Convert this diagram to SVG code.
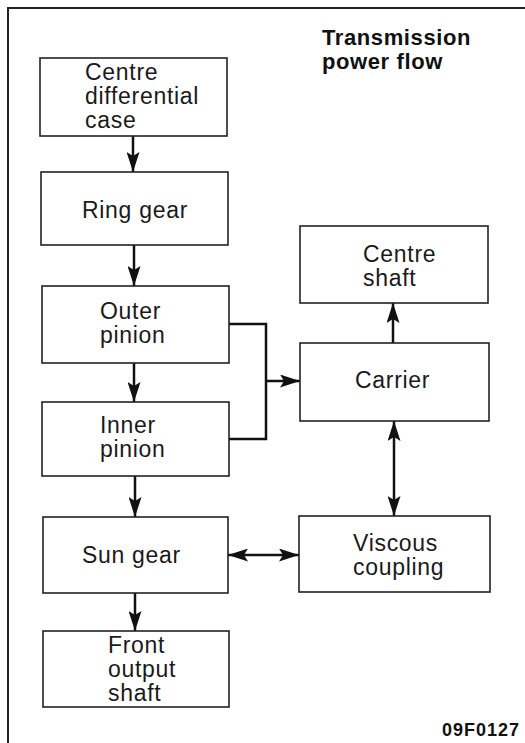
<svg xmlns="http://www.w3.org/2000/svg" width="525" height="743" viewBox="0 0 525 743">
<defs>
<style>
.box{fill:none;stroke:#222;stroke-width:1.6}
.lbl{font-family:"Liberation Sans",Arial,sans-serif;font-size:23px;letter-spacing:0.7px;fill:#1a1a1a}
.title{font-family:"Liberation Sans",Arial,sans-serif;font-size:22px;font-weight:bold;letter-spacing:0.6px;fill:#111}
.code{font-family:"Liberation Sans",Arial,sans-serif;font-size:18px;font-weight:bold;letter-spacing:1px;fill:#111}
.conn{fill:none;stroke:#111;stroke-width:2.5}
</style>
<marker id="ah" viewBox="0 0 20 13" refX="20" refY="6.5" markerWidth="20" markerHeight="13" markerUnits="userSpaceOnUse" orient="auto-start-reverse">
<path d="M0,0 L20,6.5 L0,13 L4,6.5 Z" fill="#111"/>
</marker>
</defs>
<rect width="525" height="743" fill="#fff"/>
<path d="M8,743 L8,8 L525,8" fill="none" stroke="#222" stroke-width="2"/>
<text class="title" x="322" y="45">Transmission</text>
<text class="title" x="322" y="69">power flow</text>
<text class="code" x="442" y="736">09F0127</text>

<g id="connectors">
<line class="conn" x1="133" y1="136" x2="133" y2="172" marker-end="url(#ah)"/>
<line class="conn" x1="134" y1="245" x2="134" y2="286" marker-end="url(#ah)"/>
<line class="conn" x1="134" y1="363" x2="134" y2="402" marker-end="url(#ah)"/>
<line class="conn" x1="135" y1="476" x2="135" y2="517" marker-end="url(#ah)"/>
<line class="conn" x1="135" y1="593" x2="135" y2="631" marker-end="url(#ah)"/>
<path class="conn" d="M229,324 L266,324 L266,439 L229,439"/>
<line class="conn" x1="266" y1="381" x2="300" y2="381" marker-end="url(#ah)"/>
<line class="conn" x1="393" y1="343" x2="393" y2="303" marker-end="url(#ah)"/>
<line class="conn" x1="394" y1="421" x2="394" y2="516" marker-start="url(#ah)" marker-end="url(#ah)"/>
<line class="conn" x1="228" y1="555" x2="299" y2="555" marker-start="url(#ah)" marker-end="url(#ah)"/>
</g>

<g id="centre-differential-case">
<rect class="box" x="40" y="58" width="187" height="78"/>
<text class="lbl" x="85" y="80">Centre</text>
<text class="lbl" x="85" y="104">differential</text>
<text class="lbl" x="85" y="128">case</text>
</g>
<g id="ring-gear">
<rect class="box" x="41" y="172" width="187" height="73"/>
<text class="lbl" x="82" y="218">Ring gear</text>
</g>
<g id="outer-pinion">
<rect class="box" x="42" y="286" width="187" height="77"/>
<text class="lbl" x="100" y="319">Outer</text>
<text class="lbl" x="100" y="343">pinion</text>
</g>
<g id="inner-pinion">
<rect class="box" x="42" y="402" width="187" height="74"/>
<text class="lbl" x="100" y="433">Inner</text>
<text class="lbl" x="100" y="457">pinion</text>
</g>
<g id="sun-gear">
<rect class="box" x="43" y="517" width="185" height="76"/>
<text class="lbl" x="82" y="563">Sun gear</text>
</g>
<g id="front-output-shaft">
<rect class="box" x="43" y="631" width="186" height="76"/>
<text class="lbl" x="108" y="653">Front</text>
<text class="lbl" x="108" y="677">output</text>
<text class="lbl" x="108" y="701">shaft</text>
</g>
<g id="centre-shaft">
<rect class="box" x="300" y="226" width="188" height="77"/>
<text class="lbl" x="363" y="262">Centre</text>
<text class="lbl" x="363" y="286">shaft</text>
</g>
<g id="carrier">
<rect class="box" x="300" y="343" width="189" height="78"/>
<text class="lbl" x="355" y="388">Carrier</text>
</g>
<g id="viscous-coupling">
<rect class="box" x="299" y="516" width="191" height="76"/>
<text class="lbl" x="353" y="551">Viscous</text>
<text class="lbl" x="353" y="575">coupling</text>
</g>
</svg>
